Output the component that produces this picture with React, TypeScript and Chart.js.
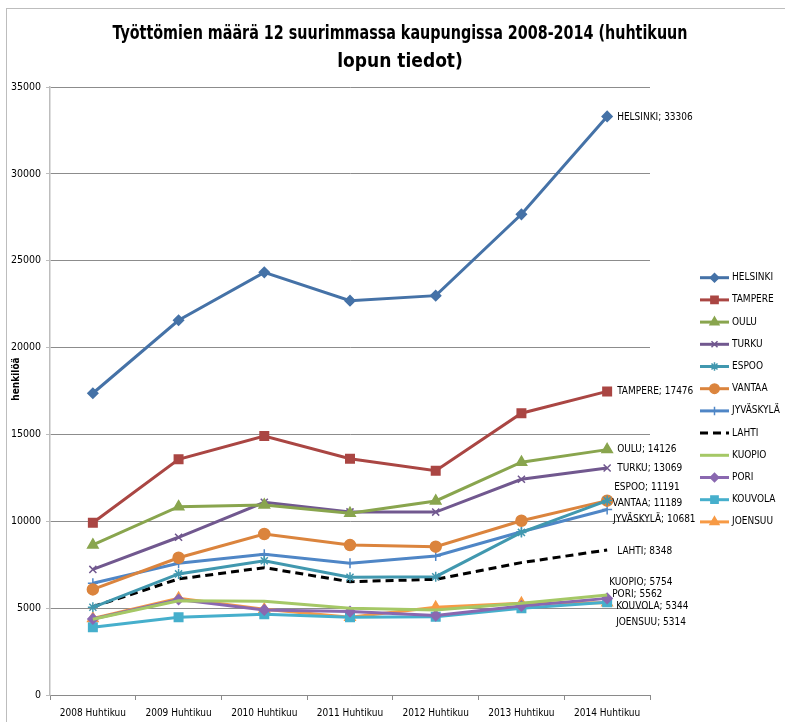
import React, { useEffect, useRef } from "react";
import { Chart, registerables } from "chart.js";
import { drawPoint } from "chart.js/helpers";

Chart.register(...registerables);

const categories = [
  "2008 Huhtikuu",
  "2009 Huhtikuu",
  "2010 Huhtikuu",
  "2011 Huhtikuu",
  "2012 Huhtikuu",
  "2013 Huhtikuu",
  "2014 Huhtikuu",
];

const yTicks = [0, 5000, 10000, 15000, 20000, 25000, 30000, 35000];

const helsinki = [17370, 21570, 24330, 22700, 22990, 27670, 33306];
const tampere = [9920, 13570, 14910, 13600, 12910, 16220, 17476];
const oulu = [8640, 10840, 10940, 10460, 11170, 13400, 14126];
const turku = [7230, 9080, 11090, 10540, 10530, 12420, 13069];
const espoo = [5050, 6970, 7730, 6780, 6810, 9360, 11191];
const vantaa = [6080, 7900, 9270, 8630, 8540, 10030, 11189];
const jyvaskyla = [6430, 7580, 8100, 7580, 8000, 9400, 10681];
const lahti = [5080, 6680, 7330, 6520, 6660, 7620, 8348];
const kuopio = [4360, 5420, 5400, 4990, 4890, 5280, 5754];
const pori = [4380, 5500, 4900, 4800, 4570, 5120, 5562];
const kouvola = [3900, 4470, 4650, 4470, 4510, 4990, 5344];
const joensuu = [4410, 5570, 4930, 4470, 5050, 5280, 5314];

const seriesNames = [
  "HELSINKI",
  "TAMPERE",
  "OULU",
  "TURKU",
  "ESPOO",
  "VANTAA",
  "JYVÄSKYLÄ",
  "LAHTI",
  "KUOPIO",
  "PORI",
  "KOUVOLA",
  "JOENSUU",
];
const seriesValues = [
  helsinki, tampere, oulu, turku, espoo, vantaa,
  jyvaskyla, lahti, kuopio, pori, kouvola, joensuu,
];

const titleLines = [
  "Työttömien määrä 12 suurimmassa kaupungissa 2008-2014 (huhtikuun",
  "lopun tiedot)",
];
const yTitle = "henkilöä";

// styles
const colors = [
  "#4572A7", "#AA4643", "#89A54E", "#71588F", "#4198AF", "#DB843D",
  "#4F86C6", "#000000", "#A5C866", "#8A68B0", "#46AFCC", "#F79A45",
];
const pointStyles = [
  "rectRot", "rect", "triangle", "crossRot", "star", "circle",
  "cross", "circle", "circle", "rectRot", "rect", "triangle",
];
const pointRadii = [5, 6, 6, 5, 5, 5.5, 5, 0, 0, 5, 6, 6];
// label offsets from the last point (styling only)
const labelOffsets = [
  [10, 1], [10, 0], [10, 0], [10, 0], [7, -13], [5, 3],
  [6, 10], [10, 1], [2, -13], [5, -4], [9, 4], [9, 20],
];

const FONT = "'DejaVu Sans Condensed', 'Liberation Sans', sans-serif";

const customPlugin = {
  id: "customDecor",
  afterDraw(chart: any) {
    const ctx = chart.ctx;
    const area = chart.chartArea;
    ctx.save();
    // title
    ctx.fillStyle = "#000";
    ctx.font = `bold 19px ${FONT}`;
    ctx.textAlign = "center";
    ctx.textBaseline = "middle";
    ctx.fillText(titleLines[0], 393, 25, 575);
    ctx.fillText(titleLines[1], 393, 53);

    // y title
    ctx.save();
    ctx.translate(9, 370);
    ctx.rotate(-Math.PI / 2);
    ctx.font = `bold 10px ${FONT}`;
    ctx.textAlign = "center";
    ctx.textBaseline = "middle";
    ctx.fillText(yTitle, 0, 0);
    ctx.restore();

    // data labels on last points
    ctx.font = `10px ${FONT}`;
    ctx.textAlign = "left";
    ctx.textBaseline = "middle";
    ctx.fillStyle = "#000";
    chart.data.datasets.forEach((ds: any, i: number) => {
      const meta = chart.getDatasetMeta(i);
      const last = meta.data[meta.data.length - 1];
      const v = ds.data[ds.data.length - 1];
      const [dx, dy] = labelOffsets[i];
      ctx.fillText(`${ds.label}; ${v}`, last.x + dx, last.y + dy);
    });

    // legend
    const lx = area.right + 50;
    const ly0 = 268.7;
    const step = 22.2;
    chart.data.datasets.forEach((ds: any, i: number) => {
      const y = ly0 + i * step;
      ctx.save();
      ctx.strokeStyle = ds.borderColor;
      ctx.lineWidth = 3;
      ctx.setLineDash(ds.borderDash || []);
      ctx.beginPath();
      ctx.moveTo(lx, y);
      ctx.lineTo(lx + 29, y);
      ctx.stroke();
      ctx.setLineDash([]);
      if (ds.pointRadius > 0) {
        ctx.lineWidth = 1.5;
        ctx.fillStyle = ds.borderColor;
        ctx.strokeStyle = ds.borderColor;
        drawPoint(
          ctx,
          { pointStyle: ds.pointStyle, radius: ds.pointRadius * 0.85, borderWidth: 1.5, rotation: 0 } as any,
          lx + 14.5,
          y
        );
      }
      ctx.restore();
      ctx.fillStyle = "#000";
      ctx.font = `10px ${FONT}`;
      ctx.textAlign = "left";
      ctx.textBaseline = "middle";
      ctx.fillText(ds.label, lx + 32, y);
    });
    ctx.restore();
  },
};

export default function App() {
  const ref = useRef<HTMLCanvasElement | null>(null);
  useEffect(() => {
    if (!ref.current) return;
    const datasets = seriesNames.map((name, i) => ({
      label: name,
      data: seriesValues[i],
      borderColor: colors[i],
      backgroundColor: colors[i],
      borderWidth: 3,
      borderDash: i === 7 ? [8, 5] : undefined,
      pointStyle: pointStyles[i],
      pointRadius: pointRadii[i],
      pointHoverRadius: pointRadii[i],
      pointBorderWidth: 1.5,
      pointBackgroundColor: colors[i],
      pointBorderColor: colors[i],
      tension: 0,
      fill: false,
    }));
    const chart = new Chart(ref.current, {
      type: "line",
      data: { labels: categories, datasets: datasets as any },
      plugins: [customPlugin],
      options: {
        responsive: false,
        animation: false,
        layout: { padding: { top: 78, right: 135, left: 0, bottom: 0 } },
        plugins: {
          legend: { display: false },
          title: { display: false },
          tooltip: { enabled: false },
        },
        scales: {
          x: {
            type: "category",
            offset: true,
            grid: {
              offset: true,
              drawOnChartArea: false,
              drawTicks: true,
              tickLength: 5,
              tickColor: "#8a8a8a",
            },
            border: { color: "#8a8a8a", width: 1 },
            ticks: {
              color: "#000",
              font: { family: FONT, size: 10 },
              padding: 7,
              maxRotation: 0,
              autoSkip: false,
            },
            afterFit: (s: any) => {
              s.height = 27;
            },
          },
          y: {
            min: 0,
            max: 35000,
            afterBuildTicks: (s: any) => {
              s.ticks = yTicks.map((v) => ({ value: v }));
            },
            grid: {
              color: "#8c8c8c",
              lineWidth: 1,
              tickLength: 4,
              tickColor: "#bdbdbd",
            },
            border: { color: "#bdbdbd", width: 1.5 },
            ticks: {
              color: "#000",
              font: { family: FONT, size: 10.5 },
              padding: 5,
              callback: (v: any) => String(v),
            },
            afterFit: (s: any) => {
              s.width = 43;
            },
          },
        },
      },
    });
    return () => chart.destroy();
  }, []);
  return (
    <div
      style={{
        position: "fixed",
        left: 6,
        top: 8,
        width: 800,
        height: 730,
        border: "1px solid #bdbdbd",
        boxSizing: "border-box",
        background: "#fff",
      }}
    >
      <canvas ref={ref} width={778} height={713} style={{ display: "block" }} />
    </div>
  );
}
